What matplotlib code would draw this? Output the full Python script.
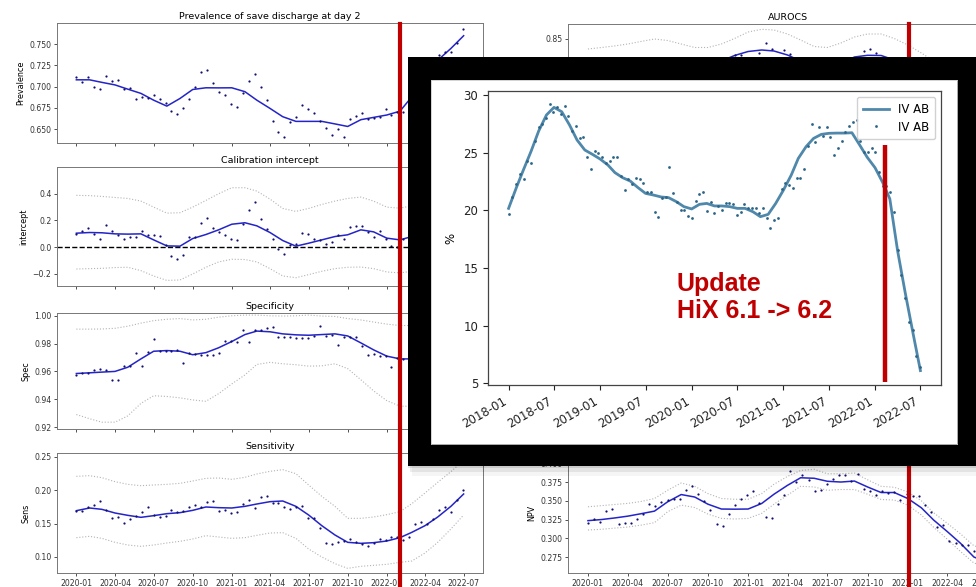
import numpy as np
import pandas as pd
import matplotlib
matplotlib.use('Agg')
import matplotlib.pyplot as plt
import matplotlib.dates as mdates
from matplotlib.lines import Line2D
from matplotlib.patches import Rectangle
from matplotlib.transforms import blended_transform_factory

# ---- data: two-weekly points and monthly smoothed curves (2020-01 .. 2022-07)
dot_dates = pd.date_range('2020-01-01', periods=66, freq='14D')
line_dates = pd.date_range('2020-01-01', '2022-07-01', freq='MS')

prev_dots = [0.711, 0.706, 0.711, 0.699, 0.697, 0.713, 0.707, 0.708, 0.697, 0.698,
             0.685, 0.688, 0.687, 0.690, 0.685, 0.681, 0.671, 0.668, 0.675, 0.685,
             0.700, 0.717, 0.720, 0.704, 0.694, 0.690, 0.680, 0.676, 0.692, 0.707,
             0.715, 0.700, 0.684, 0.659, 0.647, 0.640, 0.658, 0.664, 0.678, 0.674,
             0.669, 0.660, 0.651, 0.643, 0.650, 0.641, 0.662, 0.665, 0.669, 0.662,
             0.663, 0.664, 0.674, 0.666, 0.670, 0.670, 0.685, 0.700, 0.705, 0.715,
             0.725, 0.737, 0.741, 0.741, 0.751, 0.768]
prev_line = [0.708, 0.708, 0.705, 0.702, 0.697, 0.692, 0.684, 0.677, 0.686, 0.6966,
             0.6986, 0.6985, 0.6986, 0.694, 0.684, 0.6743, 0.6645, 0.659, 0.659, 0.659,
             0.656, 0.653, 0.661, 0.6637, 0.6665, 0.671, 0.688, 0.712, 0.731, 0.745, 0.760]

calib_dots = [0.100, 0.120, 0.145, 0.100, 0.060, 0.165, 0.120, 0.095, 0.058, 0.080,
              0.075, 0.120, 0.088, 0.088, 0.083, 0.018, -0.063, -0.090, -0.055, 0.075,
              0.075, 0.178, 0.215, 0.145, 0.113, 0.093, 0.060, 0.055, 0.172, 0.280,
              0.337, 0.210, 0.138, 0.060, -0.010, -0.048, 0.015, 0.022, 0.108, 0.100,
              0.058, 0.055, 0.022, 0.038, 0.093, 0.063, 0.148, 0.162, 0.162, 0.113,
              0.080, 0.118, 0.063, 0.012, 0.003, 0.063, 0.090, 0.120, 0.080, 0.150,
              0.110, 0.180, 0.140, 0.200, 0.170, 0.220]
calib_line = [0.105, 0.110, 0.108, 0.100, 0.098, 0.100, 0.055, 0.010, 0.008, 0.065,
              0.095, 0.130, 0.172, 0.183, 0.160, 0.110, 0.050, 0.008, 0.030, 0.055,
              0.080, 0.093, 0.130, 0.115, 0.068, 0.055, 0.080, 0.100, 0.120, 0.140, 0.160]
calib_up = [0.388, 0.386, 0.380, 0.372, 0.365, 0.345, 0.300, 0.255, 0.258, 0.300,
            0.350, 0.400, 0.445, 0.445, 0.420, 0.360, 0.290, 0.268, 0.290, 0.320,
            0.345, 0.365, 0.375, 0.345, 0.300, 0.292, 0.310, 0.330, 0.350, 0.370, 0.390]
calib_lo = [-0.163, -0.160, -0.158, -0.152, -0.150, -0.175, -0.215, -0.248, -0.245, -0.200,
            -0.150, -0.110, -0.090, -0.092, -0.110, -0.160, -0.215, -0.228, -0.205, -0.180,
            -0.160, -0.150, -0.148, -0.160, -0.185, -0.192, -0.180, -0.160, -0.140, -0.120, -0.100]

spec_dots = [0.9576, 0.9586, 0.959, 0.961, 0.962, 0.961, 0.954, 0.9535, 0.9636, 0.964,
             0.973, 0.964, 0.974, 0.983, 0.975, 0.975, 0.975, 0.9755, 0.966, 0.973,
             0.9725, 0.972, 0.972, 0.972, 0.9735, 0.982, 0.982, 0.9815, 0.990, 0.981,
             0.990, 0.990, 0.9915, 0.992, 0.985, 0.985, 0.9845, 0.984, 0.9837, 0.984,
             0.9856, 0.9928, 0.9856, 0.986, 0.979, 0.9845, 0.9847, 0.9847, 0.9785, 0.9715,
             0.9725, 0.971, 0.971, 0.963, 0.970, 0.969, 0.968, 0.966, 0.965, 0.963,
             0.962, 0.960, 0.958, 0.956, 0.955, 0.953]
spec_line = [0.9585, 0.959, 0.9595, 0.960, 0.963, 0.969, 0.9745, 0.975, 0.9745, 0.972,
             0.9735, 0.977, 0.9815, 0.9865, 0.989, 0.9885, 0.987, 0.9863, 0.986, 0.9865,
             0.987, 0.9855, 0.9805, 0.9755, 0.971, 0.969, 0.969, 0.968, 0.966, 0.963, 0.960]
spec_up = [0.9904, 0.9904, 0.9905, 0.991, 0.9925, 0.9947, 0.9965, 0.9975, 0.998, 0.997,
           0.9975, 0.999, 1.000, 1.0005, 1.0005, 1.000, 0.9998, 1.000, 1.0005, 0.9998,
           0.9995, 0.998, 0.997, 0.9955, 0.994, 0.993, 0.993, 0.992, 0.991, 0.990, 0.989]
spec_lo = [0.929, 0.926, 0.9235, 0.9235, 0.928, 0.937, 0.9425, 0.942, 0.941, 0.9395,
           0.9385, 0.944, 0.951, 0.9575, 0.965, 0.9665, 0.9655, 0.9648, 0.9638, 0.964,
           0.9655, 0.962, 0.954, 0.946, 0.939, 0.935, 0.935, 0.934, 0.932, 0.930, 0.928]

sens_dots = [0.1695, 0.169, 0.1745, 0.1785, 0.184, 0.1705, 0.159, 0.160, 0.151, 0.157,
             0.1615, 0.168, 0.1755, 0.1625, 0.160, 0.162, 0.1705, 0.168, 0.1685, 0.1745,
             0.178, 0.1745, 0.1825, 0.184, 0.169, 0.1705, 0.1665, 0.168, 0.1795, 0.186,
             0.174, 0.190, 0.1915, 0.1815, 0.1815, 0.1745, 0.172, 0.1745, 0.1765, 0.1585,
             0.158, 0.1435, 0.1207, 0.120, 0.122, 0.124, 0.127, 0.123, 0.120, 0.116,
             0.1217, 0.127, 0.126, 0.130, 0.1295, 0.1255, 0.1305, 0.1495, 0.1525, 0.1495,
             0.1575, 0.1705, 0.175, 0.1675, 0.1855, 0.2005]
sens_line = [0.1695, 0.1735, 0.1715, 0.166, 0.1625, 0.1595, 0.162, 0.165, 0.1665, 0.170,
             0.175, 0.174, 0.1735, 0.176, 0.1795, 0.183, 0.184, 0.176, 0.163, 0.147,
             0.133, 0.122, 0.1205, 0.1215, 0.124, 0.129, 0.137, 0.147, 0.160, 0.176, 0.1945]
sens_up = [0.221, 0.222, 0.219, 0.213, 0.209, 0.207, 0.208, 0.209, 0.2105, 0.214,
           0.218, 0.2185, 0.2165, 0.2195, 0.2245, 0.2285, 0.231, 0.225, 0.208, 0.191,
           0.176, 0.158, 0.158, 0.160, 0.1635, 0.168, 0.180, 0.196, 0.212, 0.228, 0.245]
sens_lo = [0.129, 0.131, 0.128, 0.122, 0.118, 0.116, 0.118, 0.121, 0.1235, 0.127,
           0.132, 0.130, 0.128, 0.129, 0.1325, 0.136, 0.1365, 0.128, 0.112, 0.100,
           0.090, 0.083, 0.086, 0.0875, 0.089, 0.092, 0.094, 0.106, 0.122, 0.142, 0.163]

auroc_dots = [0.795, 0.802, 0.790, 0.808, 0.800, 0.812, 0.805, 0.798, 0.815, 0.806,
              0.810, 0.803, 0.812, 0.800, 0.808, 0.815, 0.810, 0.818, 0.812, 0.820,
              0.816, 0.825, 0.822, 0.828, 0.834, 0.834, 0.826, 0.829, 0.836, 0.8457,
              0.840, 0.831, 0.839, 0.835, 0.828, 0.825, 0.818, 0.822, 0.812, 0.820,
              0.815, 0.824, 0.822, 0.828, 0.830, 0.838, 0.840, 0.836, 0.828, 0.825,
              0.830, 0.815, 0.812, 0.808, 0.800, 0.795, 0.790, 0.792, 0.780, 0.778,
              0.770, 0.765, 0.760, 0.752, 0.748, 0.740]
auroc_line = [0.800, 0.802, 0.805, 0.808, 0.810, 0.812, 0.810, 0.808, 0.810, 0.815,
              0.828, 0.8335, 0.8375, 0.839, 0.838, 0.834, 0.828, 0.820, 0.818, 0.826,
              0.832, 0.8337, 0.8335, 0.829, 0.820, 0.810, 0.800, 0.790, 0.780, 0.770, 0.760]
auroc_up = [0.840, 0.8415, 0.843, 0.845, 0.8475, 0.850, 0.8485, 0.845, 0.8415, 0.8415,
            0.845, 0.8505, 0.857, 0.8597, 0.859, 0.855, 0.849, 0.8425, 0.8415, 0.846,
            0.852, 0.855, 0.855, 0.8505, 0.844, 0.836, 0.828, 0.818, 0.808, 0.798, 0.788]
auroc_lo = [0.760, 0.762, 0.766, 0.770, 0.772, 0.774, 0.772, 0.770, 0.778, 0.788,
            0.800, 0.808, 0.814, 0.816, 0.815, 0.810, 0.804, 0.796, 0.794, 0.802,
            0.810, 0.812, 0.810, 0.804, 0.795, 0.782, 0.770, 0.758, 0.748, 0.738, 0.728]

npv_dots = [0.3208, 0.3257, 0.3213, 0.3358, 0.339, 0.319, 0.320, 0.320, 0.326, 0.3318,
            0.346, 0.3433, 0.3486, 0.3508, 0.3525, 0.3525, 0.365, 0.3697, 0.3592, 0.3503,
            0.3376, 0.319, 0.3164, 0.3318, 0.345, 0.3525, 0.358, 0.3627, 0.3473, 0.329,
            0.327, 0.3455, 0.358, 0.3895, 0.375, 0.3847, 0.378, 0.3627, 0.365, 0.3728,
            0.3785, 0.3842, 0.385, 0.377, 0.386, 0.3657, 0.363, 0.358, 0.363, 0.3605,
            0.362, 0.3508, 0.3596, 0.3565, 0.356, 0.345, 0.3354, 0.3146, 0.3177, 0.297,
            0.2935, 0.2913, 0.2904, 0.2825, 0.268, 0.265]
npv_line = [0.3235, 0.325, 0.327, 0.3295, 0.3327, 0.3362, 0.3486, 0.3583, 0.355, 0.3455,
            0.339, 0.3388, 0.339, 0.3464, 0.3587, 0.3706, 0.3807, 0.380, 0.376, 0.375,
            0.3763, 0.3684, 0.361, 0.361, 0.353, 0.3406, 0.3243, 0.309, 0.2935, 0.275, 0.268]
npv_up = [0.342, 0.3435, 0.345, 0.3465, 0.349, 0.353, 0.364, 0.3737, 0.3693, 0.3596,
          0.353, 0.352, 0.352, 0.3596, 0.372, 0.3825, 0.3904, 0.392, 0.386, 0.386,
          0.387, 0.378, 0.3693, 0.368, 0.3617, 0.350, 0.334, 0.320, 0.306, 0.290, 0.285]
npv_lo = [0.311, 0.312, 0.3135, 0.315, 0.3175, 0.3208, 0.3354, 0.3442, 0.341, 0.3323,
          0.3265, 0.3257, 0.3265, 0.3332, 0.3455, 0.3574, 0.3693, 0.3684, 0.364, 0.365,
          0.365, 0.3587, 0.3517, 0.351, 0.3442, 0.331, 0.3146, 0.2988, 0.2825, 0.267, 0.262]

# inset: IV AB percentage 2018-01 .. 2022-06
iv_dots = [19.68, 21.18, 22.28, 23.12, 22.75, 24.28, 24.13, 26.04, 27.2, 27.46,
           27.98, 29.19, 28.5, 28.93, 28.35, 29.08, 28.2, 26.88, 27.3, 26.3,
           26.39, 24.6, 23.55, 25.12, 25.0, 24.6, 24.08, 24.28, 24.6, 24.6,
           23.0, 21.8, 22.75, 22.25, 22.83, 22.75, 22.4, 21.6, 21.6, 19.88,
           19.45, 21.1, 21.15, 23.8, 21.47, 20.72, 20.06, 20.0, 19.48, 19.3,
           20.84, 21.39,
           21.56, 19.94, 20.75, 19.74, 20.38, 20.03, 20.64, 20.64, 20.52, 19.6,
           19.88, 20.52, 20.23, 20.17, 20.17, 19.8, 20.17, 19.36, 18.44, 19.13,
           19.36, 21.82, 22.34, 22.2, 21.9, 22.77, 22.77, 23.58, 25.58, 27.46,
           25.95, 27.25, 26.47, 27.2, 26.4, 24.8, 25.43, 26.04, 26.82, 27.34,
           27.69, 27.83, 26.04, 25.03, 25.03, 25.43, 25.09, 23.35, 22.14, 22.14,
           21.56, 19.88,
           16.56, 14.4, 12.4, 10.3, 9.6, 7.4, 6.4]
iv_dates = pd.date_range('2018-01-01', '2022-06-30', periods=len(iv_dots))
iv_line = [20.17, 21.97, 23.5, 25.14, 26.88, 28.27, 28.93, 28.55, 27.4, 26.1,
           25.23, 24.86, 24.45, 23.93, 23.27, 22.83, 22.54, 21.97, 21.47, 21.33,
           21.16, 21.1, 20.75, 20.32, 20.12, 20.52, 20.6, 20.38, 20.38, 20.32,
           20.17, 20.17, 19.88, 19.45, 19.65, 20.6, 21.76, 23.06, 24.5, 25.52,
           26.24, 26.59, 26.68, 26.7, 26.7, 26.73, 25.66, 24.6, 23.7, 22.4,
           21.0, 16.5, 12.9, 9.4, 6.1]
iv_line_dates = pd.date_range('2018-01-01', periods=len(iv_line), freq='MS')

update_left = pd.Timestamp('2022-02-01')
update_right = pd.Timestamp('2022-01-03')
update_inset = pd.Timestamp('2022-02-10')

# ---- figure
W, H = 976, 587
fig = plt.figure(figsize=(W / 100, H / 100), dpi=100)

def fbox(x0, y0, x1, y1):
    # pixel box (top-left origin) -> figure fraction rect
    return [x0 / W, 1 - y1 / H, (x1 - x0) / W, (y1 - y0) / H]

def panel(rect, title, ylabel, dots, line, up, lo, ylim, yticks, labels=False):
    ax = fig.add_axes(rect)
    if up is not None:
        ax.plot(line_dates, up, ls=':', color='#b4b4b4', lw=0.8)
        ax.plot(line_dates, lo, ls=':', color='#b4b4b4', lw=0.8)
    ax.plot(line_dates, line, color='#2424c8', lw=1.1)
    ax.plot(dot_dates, dots, 'o', color='#10106e', ms=1.6, mew=0)
    ax.set_ylim(*ylim)
    ax.set_yticks(yticks)
    ax.set_title(title, fontsize=6.8, pad=3)
    ax.set_ylabel(ylabel, fontsize=5.8, labelpad=3)
    ax.xaxis.set_major_locator(mdates.MonthLocator(bymonth=[1, 4, 7, 10]))
    ax.xaxis.set_major_formatter(mdates.DateFormatter('%Y-%m'))
    ax.tick_params(labelsize=5.6, length=2.5, width=0.6, colors='#333333', pad=1.5)
    ax.tick_params(axis='x', labelbottom=labels)
    for s in ax.spines.values():
        s.set_color('#777777')
        s.set_linewidth(0.7)
    return ax

ax1 = panel(fbox(57, 23, 483, 143), 'Prevalence of save discharge at day 2', 'Prevalence',
            prev_dots, prev_line, None, None, (0.6335, 0.775),
            [0.650, 0.675, 0.700, 0.725, 0.750])
ax2 = panel(fbox(57, 167, 483, 286), 'Calibration intercept', 'intercept',
            calib_dots, calib_line, calib_up, calib_lo, (-0.29, 0.60), [-0.2, 0.0, 0.2, 0.4])
ax2.axhline(0, color='black', ls='--', lw=1.0)
ax3 = panel(fbox(57, 313, 483, 429), 'Specificity', 'Spec',
            spec_dots, spec_line, spec_up, spec_lo, (0.9186, 1.002),
            [0.92, 0.94, 0.96, 0.98, 1.00])
ax4 = panel(fbox(57, 453, 483, 573), 'Sensitivity', 'Sens',
            sens_dots, sens_line, sens_up, sens_lo, (0.076, 0.256),
            [0.10, 0.15, 0.20, 0.25], labels=True)

ax5 = panel(fbox(568, 24, 1007, 143), 'AUROCS', 'AUROC',
            auroc_dots, auroc_line, auroc_up, auroc_lo, (0.746, 0.865), [0.75, 0.80, 0.85])
ax6 = panel(fbox(568, 453, 1007, 573), 'NPV', 'NPV',
            npv_dots, npv_line, npv_up, npv_lo, (0.2537, 0.4137),
            [0.275, 0.300, 0.325, 0.350, 0.375, 0.400], labels=True)

# red "update" markers across each column
top = 1 - 24 / H
for ax, d in [(ax4, update_left), (ax6, update_right)]:
    tr = blended_transform_factory(ax.transData, fig.transFigure)
    xd = mdates.date2num(d)
    fig.add_artist(Line2D([xd, xd], [0, top], transform=tr, color='#c00000', lw=3, zorder=3))

# soft shadow under the black frame
for k, a in enumerate([0.10, 0.07, 0.04]):
    fig.add_artist(Rectangle(((408 + 2 * k) / W, 1 - (468 + 4 * k) / H), (W - 408) / W, 0.03,
                             transform=fig.transFigure, color='black', alpha=a, lw=0, zorder=9))

# black frame + white card
box = fig.add_axes(fbox(408, 57, 1000, 466), zorder=10)
box.set_facecolor('black')
box.set_xticks([])
box.set_yticks([])
for s in box.spines.values():
    s.set_visible(False)
card = fig.add_axes(fbox(431, 80, 957, 444), zorder=11)
card.set_facecolor('white')
card.set_xticks([])
card.set_yticks([])
for s in card.spines.values():
    s.set_color('#cccccc')
    s.set_linewidth(0.6)

# inset chart
axi = fig.add_axes(fbox(488, 91, 941, 385), zorder=12)
axi.plot(iv_line_dates, iv_line, color='#4f88ab', lw=2.0, label='IV AB')
axi.plot(iv_dates, iv_dots, 'o', color='#2b6587', ms=2.0, mew=0, label='IV AB')
axi.vlines(update_inset, 5.1, 25.7, color='#c00000', lw=3.2)
axi.set_ylim(4.85, 30.35)
axi.set_yticks([5, 10, 15, 20, 25, 30])
axi.xaxis.set_major_locator(mdates.MonthLocator(bymonth=[1, 7]))
axi.xaxis.set_major_formatter(mdates.DateFormatter('%Y-%m'))
for lab in axi.get_xticklabels():
    lab.set_rotation(30)
    lab.set_ha('right')
axi.tick_params(labelsize=8.5, length=3.5, width=0.8, colors='#222222')
axi.set_ylabel('%', fontsize=8.5)
for s in axi.spines.values():
    s.set_color('#444444')
    s.set_linewidth(0.9)
axi.legend(loc='upper right', fontsize=8.5, handlelength=2.2, borderpad=0.5,
           labelspacing=0.4, framealpha=0.9)
axi.text(0.417, 0.385, 'Update\nHiX 6.1 -> 6.2', transform=axi.transAxes,
         ha='left', va='top', color='#c00000', fontsize=18, fontweight='bold',
         family='Liberation Sans', linespacing=1.15)

fig.savefig('out.png', dpi=100)
